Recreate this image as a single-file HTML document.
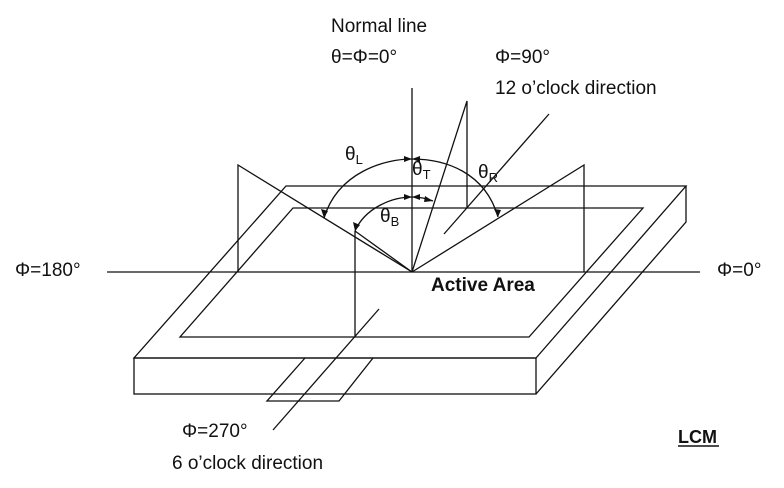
<!DOCTYPE html>
<html><head><meta charset="utf-8"><style>
html,body{margin:0;padding:0;background:#fff;}
svg{display:block;}
text{font-family:"Liberation Sans",Arial,sans-serif;fill:#111;}
</style></head><body>
<svg width="784" height="488" viewBox="0 0 784 488" xmlns="http://www.w3.org/2000/svg">
<g stroke="#111" stroke-width="1.3" fill="none">
<line x1="107" y1="272" x2="700" y2="272"/>
<line x1="412" y1="88" x2="412" y2="272"/>
<polygon points="286,186 686,186 536,358 134,358"/>
<polygon points="293,208 643,208 529,337 180,337"/>
<rect x="134" y="358" width="402" height="36"/>
<polyline points="686,186 686,222 536,394"/>
<polyline points="238,272 238,165 412,272"/>
<polyline points="584,272 584,165 412,272"/>
<polyline points="467,208 467,101 412,272"/>
<line x1="549" y1="114" x2="444" y2="234"/>
<line x1="355" y1="231" x2="355" y2="337"/>
<line x1="355" y1="231" x2="412" y2="272"/>
<polyline points="305,358 267,401 339,401 373,358"/>
<line x1="379" y1="309" x2="273" y2="430"/>
<path d="M324,218 C338,172 385,159 412,159 C445,159 485,172 498,217"/>
<path d="M355,231 C365,208 392,197 412,197 C420,197 428,199 433,201"/>
</g>
<g fill="#111">
<polygon points="324,218 321,209 328,211"/>
<polygon points="498,217 494,209 501,210"/>
<polygon points="412,159 404,156 404,162"/>
<polygon points="412,159 420,156 420,162"/>
<polygon points="355,231 353,222 360,225"/>
<polygon points="433,201 425,196 424,202"/>
<polygon points="412,197 404,194 404,200"/>
<polygon points="412,197 420,194 420,200"/>
</g>
<text x="331" y="32" font-size="19">Normal line</text>
<text x="331" y="63" font-size="19">θ=Φ=0°</text>
<text x="495" y="63" font-size="19">Φ=90°</text>
<text x="495" y="94" font-size="19">12 o’clock direction</text>
<text x="345" y="160" font-size="19">θ<tspan font-size="13" dy="4">L</tspan></text>
<text x="412" y="175" font-size="19">θ<tspan font-size="13" dy="4">T</tspan></text>
<text x="478" y="178" font-size="19">θ<tspan font-size="13" dy="4">R</tspan></text>
<text x="380" y="222" font-size="19">θ<tspan font-size="13" dy="4">B</tspan></text>
<text x="15" y="276" font-size="19">Φ=180°</text>
<text x="717" y="276" font-size="19">Φ=0°</text>
<text x="431" y="291" font-size="19" font-weight="bold">Active Area</text>
<text x="182" y="437" font-size="19">Φ=270°</text>
<text x="172" y="469" font-size="19">6 o’clock direction</text>
<text x="678" y="443" font-size="18" font-weight="bold">LCM</text>
<line x1="678" y1="446" x2="719" y2="446" stroke="#111" stroke-width="1.5"/>
</svg>
</body></html>
